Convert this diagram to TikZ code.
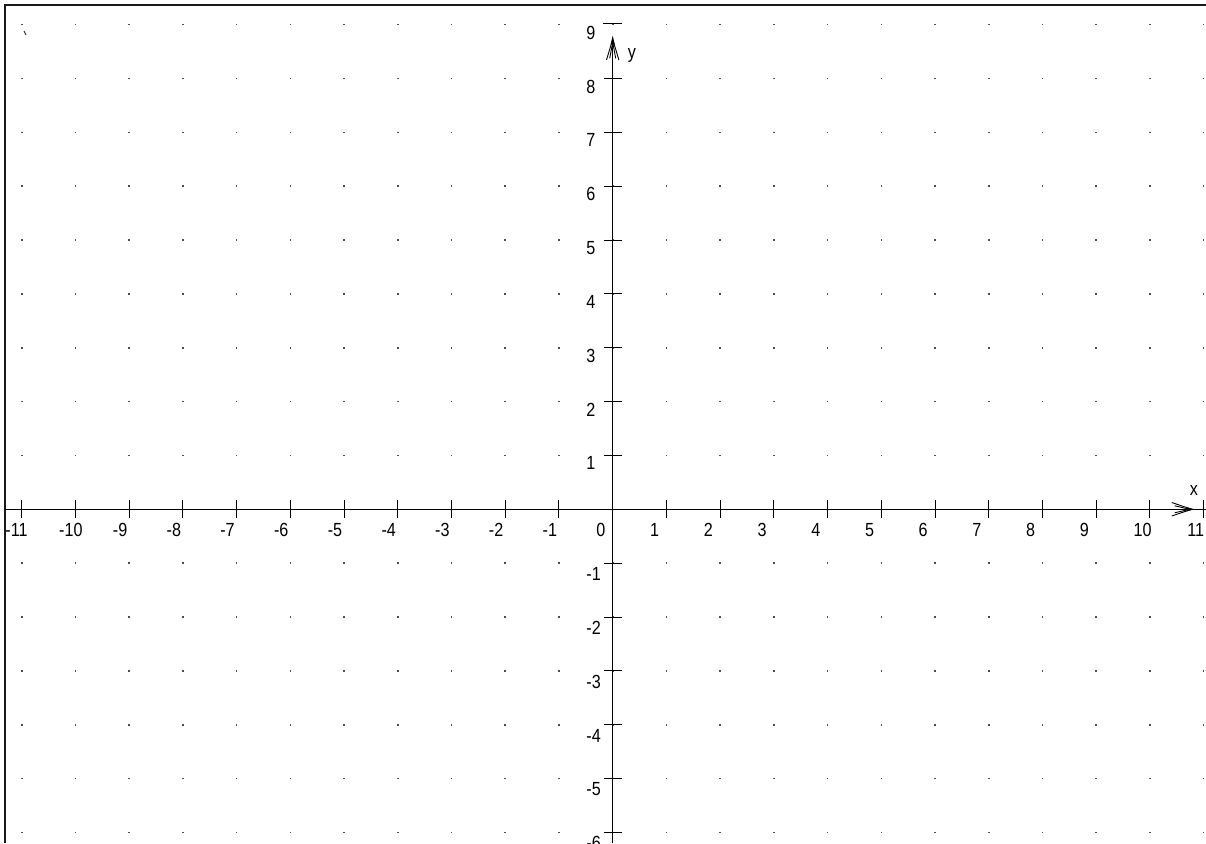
\documentclass[tikz,border=0pt]{standalone}
\usepackage{fontspec}
\setmainfont{Liberation Sans}
\newfontfamily\labfont[FakeStretch=0.85]{Liberation Sans}
\begin{document}
\begin{tikzpicture}[x=53.72pt,y=53.85pt,
  axisline/.style={line width=1pt,black},
  frameline/.style={line width=1.7pt,black!90},
  dotmark/.style={fill=black!70},
  lab/.style={inner sep=0pt,text=black,font=\labfont\fontsize{19}{19}\selectfont},
  xlab/.style={lab,anchor=west},
  ylab/.style={lab,anchor=west}]
\path[use as bounding box,fill=white] (-612.7pt,-333.7pt) rectangle (593.3pt,509.3pt);
\clip (-612.7pt,-333.7pt) rectangle (593.3pt,509.3pt);
% grid dots
\foreach \i in {-11,...,11}{
  \foreach \j in {-6,...,9}{
    \fill[dotmark] ([xshift=-0.8pt,yshift=-0.8pt]\i,\j) rectangle ([xshift=0.8pt,yshift=0.8pt]\i,\j);
  }
}
% frame
\draw[frameline] (-607.4pt,-333.7pt) -- (-607.4pt,504.6pt) -- (593.3pt,504.6pt);
% axes
\draw[axisline] (-607.4pt,0) -- (593.3pt,0);
\draw[axisline] (0,-333.7pt) -- (0,470pt);
% x ticks and labels
\foreach \i in {-11,...,11}{
  \ifnum\i=0\else
    \draw[axisline] ([yshift=-9pt]\i,0) -- ([yshift=9pt]\i,0);
  \fi
  \node[xlab] (xl\i) at ([xshift=-16.5pt,yshift=-20.7pt]\i,0) {\i};
}
% y ticks and labels
\foreach \j in {-6,...,-1,1,2,...,8}{
  \draw[axisline] ([xshift=-9pt]0,\j) -- ([xshift=9pt]0,\j);
}
\draw[axisline] (-9.4pt,485.6pt) -- (9pt,485.6pt);
\foreach \j in {-6,...,-1}{
  \node[ylab] (yl\j) at ([xshift=-26.5pt,yshift=-11pt]0,\j) {\j};
}
\foreach \j in {1,...,8}{
  \node[ylab] (yl\j) at ([xshift=-26.5pt,yshift=-8pt]0,\j) {\j};
}
\node[ylab] (yl9) at (-26.5pt,476.8pt) {9};
% y arrow
\fill[black] (0,473.5pt) -- (-2pt,465pt) -- (2pt,465pt) -- cycle;
\draw[axisline,line width=0.9pt] (-6.2pt,449.3pt) -- (0,470pt) -- (6.2pt,449.3pt);
\draw[axisline,line width=0.9pt] (-3pt,451pt) -- (0,467pt) -- (3pt,451pt);
% x arrow
\fill[black] (582pt,0) -- (574pt,2pt) -- (574pt,-2pt) -- cycle;
\draw[axisline,line width=0.9pt] (559pt,6.8pt) -- (579pt,0) -- (559pt,-6.7pt);
\draw[axisline,line width=0.9pt] (562pt,3.5pt) -- (577pt,0) -- (562pt,-3.5pt);
% axis names
\node[lab] (xname) at (581.3pt,19.3pt) {x};
\node[lab] (yname) at (19.3pt,454.3pt) {y};
% small stray mark
\draw[black!80,line width=1pt] (-588.7pt,478.3pt) -- (-586.7pt,474.3pt);
\end{tikzpicture}
\end{document}
